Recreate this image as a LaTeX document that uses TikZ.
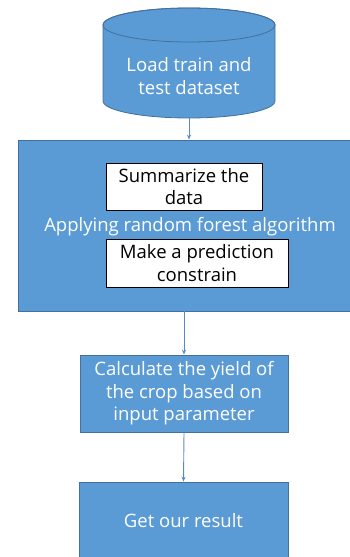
\documentclass[tikz,border=0pt]{standalone}
\usepackage{fontspec}
\setmainfont{Open Sans}
\usetikzlibrary{arrows.meta,positioning}
\definecolor{boxblue}{HTML}{5B9BD5}
\definecolor{edgeblue}{HTML}{41719C}
\definecolor{linkblue}{HTML}{5A8AC6}

\begin{document}
\begin{tikzpicture}[x=1pt,y=-1pt,
    bluebox/.style={draw=edgeblue,fill=boxblue,line width=0.8pt,text=white,
      font=\fontsize{18.5}{22.5}\selectfont,align=center,inner sep=0pt},
    whitebox/.style={draw=black,fill=white,line width=1pt,text=black,
      font=\fontsize{18.5}{22.5}\selectfont,align=center,inner sep=0pt},
    link/.style={-{Stealth[length=5pt,width=4pt]},linkblue,line width=0.9pt}]
  \useasboundingbox (0,0) rectangle (350,557);
  % dataset cylinder
  \path[fill=boxblue,draw=edgeblue,line width=0.8pt] (103,25) -- (103,101)
    arc[start angle=180,end angle=0,x radius=86,y radius=17] -- (275,25)
    arc[start angle=0,end angle=-180,x radius=86,y radius=17] -- cycle;
  \draw[edgeblue,line width=0.8pt] (189,25) ellipse[x radius=86,y radius=17];
  \node[text=white,align=center,font=\fontsize{18.5}{22.5}\selectfont] (data) at (189,76)
        {Load train and\\test dataset};
  \coordinate (databot) at (189,118);
  % random forest block
  \node[bluebox,minimum width=334pt,minimum height=171pt] (algo) at (185,225.5) {};
  \node[whitebox,minimum width=156pt,minimum height=47pt] (summ) at (184,186.5)
        {Summarize the\\data};
  \node[text=white,font=\fontsize{18.5}{22.5}\selectfont] (apply) at (190,227)
        {Applying random forest algorithm};
  \node[whitebox,minimum width=182pt,minimum height=48pt] (pred) at (197,263)
        {Make a prediction\\constrain};
  \node[bluebox,minimum width=208pt,minimum height=77pt] (calc) at (184,393.5)
        {Calculate the yield of\\the crop based on\\input parameter};
  \node[bluebox,minimum width=209pt,minimum height=78pt] (res) at (183.5,521)
        {Get our result};
  \coordinate (algotop) at (algo.north -| databot);
  \coordinate (algobot) at (algo.south -| calc.north);
  \draw[link] (databot) -- (algotop);
  \draw[link] (algobot) -- (calc.north);
  \draw[link] (calc.south) -- (res.north);
\end{tikzpicture}
\end{document}
